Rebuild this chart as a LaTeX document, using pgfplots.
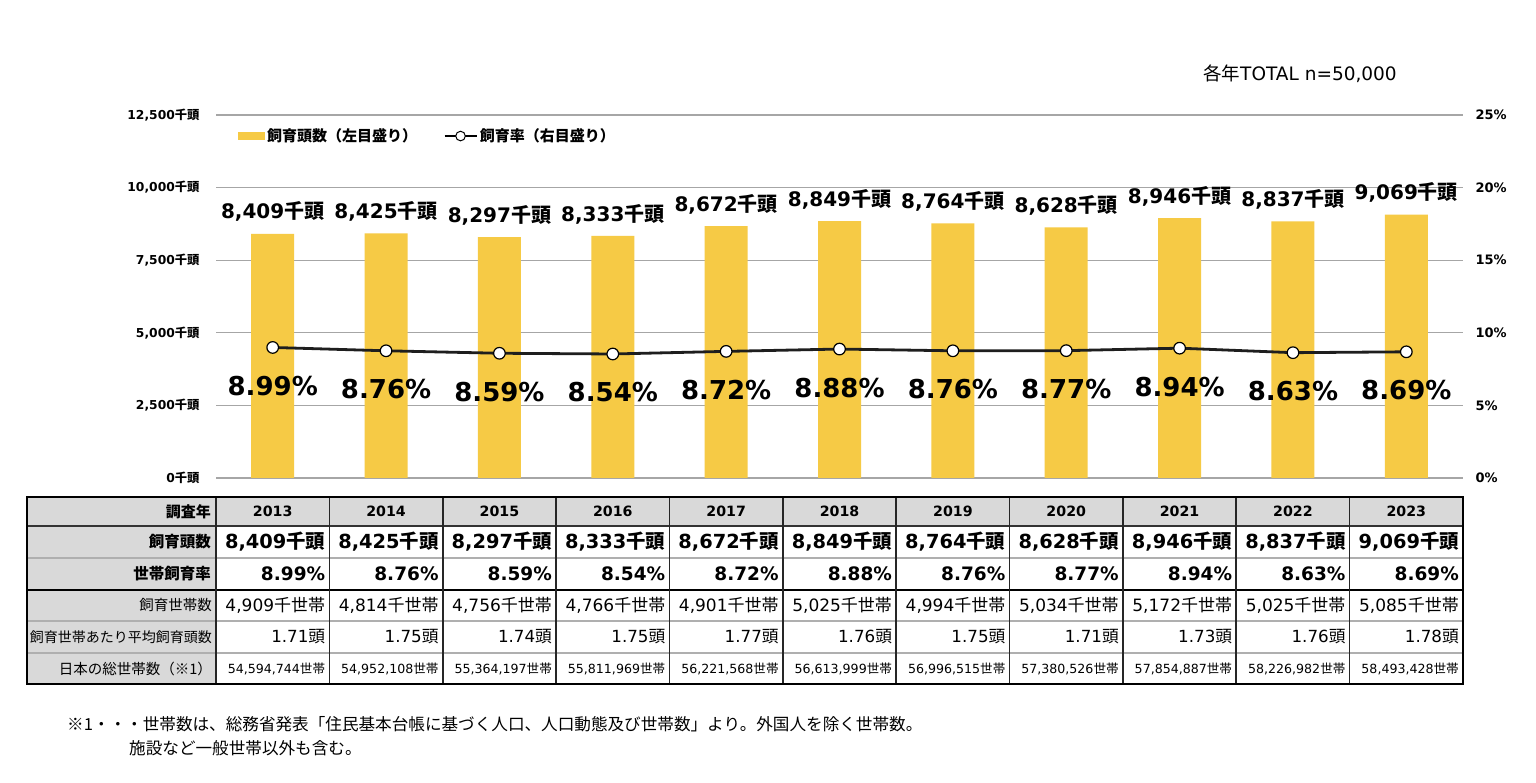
\documentclass[border=0pt]{standalone}
\usepackage{fontspec}
\setmainfont{DejaVu Sans}
\newfontfamily\cjk{Noto Sans CJK JP}
\usepackage{pgfplots}
\usepackage{pgfplotstable}
\pgfplotsset{compat=1.18}
\newcommand\J[1]{{\cjk #1}}
\newcommand\fs[1]{\fontsize{#1}{#1}\selectfont}
\definecolor{baryellow}{RGB}{246,202,69}
\definecolor{gridgray}{RGB}{166,166,166}
\definecolor{cellgray}{RGB}{217,217,217}
\definecolor{linegray}{RGB}{175,175,175}
\pgfplotsset{
  linelegend/.style={legend image code/.code={%
    \draw[##1, mark=none] (0pt,0pt) -- (32pt,0pt);
    \draw[##1, sharp plot] plot coordinates {(16pt,0pt)};}},
  barlegend/.style={legend image code/.code={\fill[baryellow] (0pt,-4pt) rectangle (27pt,4pt);}},
}

\pgfplotstableread{
x cnt rate
0 8409 8.99
1 8425 8.76
2 8297 8.59
3 8333 8.54
4 8672 8.72
5 8849 8.88
6 8764 8.76
7 8628 8.77
8 8946 8.94
9 8837 8.63
10 9069 8.69
}\data

\begin{document}
\begin{tikzpicture}[x=1pt,y=1pt]
\fill[white] (0,0) rectangle (1536,783);
\path[use as bounding box] (0,0) rectangle (1536,783);

\begin{axis}[
  at={(216pt,305pt)}, anchor=south west,
  width=1247pt, height=363pt, scale only axis,
  xmin=-0.5, xmax=10.5, ymin=0, ymax=12500,
  scaled y ticks=false,
  xtick=\empty,
  ytick={0,2500,5000,7500,10000,12500},
  yticklabels={0\J{千頭},{2,500\J{千頭}},{5,000\J{千頭}},{7,500\J{千頭}},{10,000\J{千頭}},{12,500\J{千頭}}},
  yticklabel style={font=\fs{12.3}\bfseries, xshift=-13pt},
  major tick length=0pt,
  axis line style={draw=none},
  ymajorgrids, grid style={gridgray, line width=1.2pt},
  clip=false,
  /pgf/number format/1000 sep={,},
  /pgf/number format/assume math mode=true,
  legend columns=2,
  legend style={at={(axis description cs:0.0176,0.942)}, anchor=west, draw=none, fill=none,
    inner sep=0pt, font=\fs{15}\bfseries\cjk,
    /tikz/every even column/.append style={column sep=24pt}},
]
\addplot[ybar, bar width=43pt, fill=baryellow, draw=none, barlegend,
  nodes near coords={\pgfmathprintnumber{\pgfplotspointmeta}\J{千頭}},
  every node near coord/.append style={anchor=center, yshift=22pt, font=\fs{20}\bfseries, text=black},
] table[x=x,y=cnt]{\data};
\addlegendentry{飼育頭数（左目盛り）}
\addlegendimage{black, line width=2.8pt, mark=*, mark size=4.8pt,
  mark options={fill=white, draw=black, line width=1pt}, linelegend}
\addlegendentry{飼育率（右目盛り）}
\end{axis}

\begin{axis}[
  at={(216pt,305pt)}, anchor=south west,
  width=1247pt, height=363pt, scale only axis,
  xmin=-0.5, xmax=10.5, ymin=0, ymax=25,
  axis x line=none, axis y line*=right,
  y axis line style={draw=none},
  major tick length=0pt,
  ytick={0,5,10,15,20,25},
  yticklabels={0\%,5\%,10\%,15\%,20\%,25\%},
  yticklabel style={font=\fs{13}\bfseries, xshift=9pt},
  clip=false,
  /pgf/number format/assume math mode=true,
]
\addplot[color={rgb,255:red,30;green,30;blue,30}, line width=2.8pt, mark=*, mark size=5.8pt,
  mark options={fill=white, draw=black, line width=1.2pt},
  nodes near coords={\pgfmathprintnumber[fixed,fixed zerofill,precision=2]{\pgfplotspointmeta}\%},
  every node near coord/.append style={anchor=center, yshift=-38.5pt, font=\fs{26}\bfseries, text=black},
] table[x=x,y=rate]{\data};
\end{axis}

% TOTAL note
\node[anchor=west, inner sep=0pt, font=\fs{18.5}] at (1203,709) {\J{各年}TOTAL n=50,000};

% table
\fill[cellgray] (27,99) rectangle (216,286);
\fill[cellgray] (216,257) rectangle (1463,286);
\draw[linegray, line width=1.2pt] (27,225) -- (1463,225);
\draw[linegray, line width=1.2pt] (27,162) -- (1463,162);
\draw[linegray, line width=1.2pt] (27,130) -- (1463,130);
\draw[black!80, line width=1.5pt] (27,257) -- (1463,257);
\draw[black, line width=2.2pt] (27,193) -- (1463,193);
\foreach \k in {0,...,10} \draw[black!85, line width=1.6pt] ({216+\k*113.364},99) -- ({216+\k*113.364},286);
\draw[black, line width=2pt] (27,99) rectangle (1463,286);

\node[anchor=east, inner sep=0pt, font=\fs{15}\bfseries\cjk] at (211,271.5) {調査年};
\node[anchor=east, inner sep=0pt, font=\fs{15.5}\bfseries\cjk] at (211,241) {飼育頭数};
\node[anchor=east, inner sep=0pt, font=\fs{15.5}\bfseries\cjk] at (211,209) {世帯飼育率};
\node[anchor=east, inner sep=0pt, font=\fs{14.5}\cjk] at (212,177.5) {飼育世帯数};
\node[anchor=east, inner sep=0pt, font=\fs{14}\cjk] at (212,146) {飼育世帯あたり平均飼育頭数};
\node[anchor=east, inner sep=0pt, font=\fs{14.5}\cjk] at (212,114.5) {日本の総世帯数（※1）};

\foreach \k/\yr/\cnt/\rate/\hh/\avg/\tot in {
 0/2013/{8,409}/8.99/{4,909}/1.71/{54,594,744},
 1/2014/{8,425}/8.76/{4,814}/1.75/{54,952,108},
 2/2015/{8,297}/8.59/{4,756}/1.74/{55,364,197},
 3/2016/{8,333}/8.54/{4,766}/1.75/{55,811,969},
 4/2017/{8,672}/8.72/{4,901}/1.77/{56,221,568},
 5/2018/{8,849}/8.88/{5,025}/1.76/{56,613,999},
 6/2019/{8,764}/8.76/{4,994}/1.75/{56,996,515},
 7/2020/{8,628}/8.77/{5,034}/1.71/{57,380,526},
 8/2021/{8,946}/8.94/{5,172}/1.73/{57,854,887},
 9/2022/{8,837}/8.63/{5,025}/1.76/{58,226,982},
 10/2023/{9,069}/8.69/{5,085}/1.78/{58,493,428}}{
  \pgfmathsetmacro\xc{216+(\k+0.5)*113.364}
  \pgfmathsetmacro\xr{216+(\k+1)*113.364-4}
  \node[font=\fs{14.2}\bfseries, inner sep=0pt] at (\xc,271.5) {\yr};
  \node[anchor=east, inner sep=0pt, font=\fs{19.4}\bfseries] at (\xr,241) {\cnt\J{千頭}};
  \node[anchor=east, inner sep=0pt, font=\fs{18.5}\bfseries] at (\xr,209) {\rate\%};
  \node[anchor=east, inner sep=0pt, font=\fs{17}] at (\xr,177.5) {\hh\J{千世帯}};
  \node[anchor=east, inner sep=0pt, font=\fs{16.7}] at (\xr,146) {\avg\J{頭}};
  \node[anchor=east, inner sep=0pt, font=\fs{12.6}] at (\xr,114.5) {\tot\J{世帯}};
}

% footnote
\node[anchor=west, inner sep=0pt, font=\fs{16.6}\cjk] at (67,59) {※1・・・世帯数は、総務省発表「住民基本台帳に基づく人口、人口動態及び世帯数」より。外国人を除く世帯数。};
\node[anchor=west, inner sep=0pt, font=\fs{16.6}\cjk] at (129,35) {施設など一般世帯以外も含む。};
\end{tikzpicture}
\end{document}
